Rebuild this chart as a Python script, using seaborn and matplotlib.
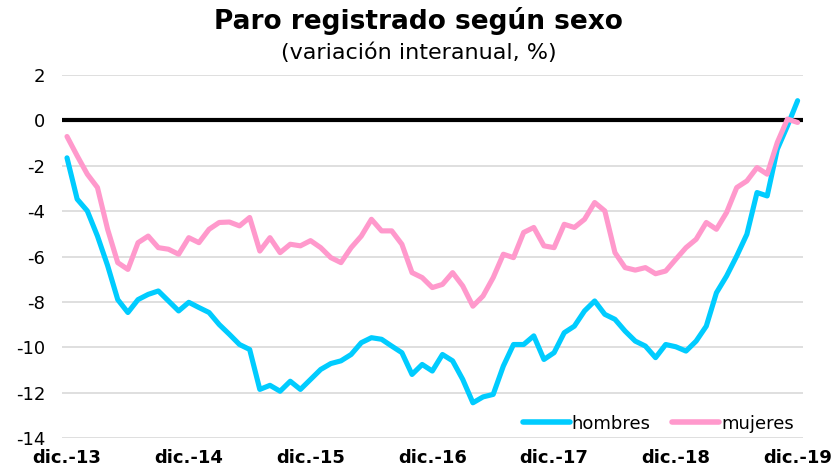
import numpy as np
import pandas as pd
from matplotlib import pyplot as plt
import seaborn as sns

# Monthly series, dic.-13 .. dic.-19 (73 points)
HOMBRES = [
    -1.65, -3.47, -3.99, -5.1, -6.4, -7.9, -8.47, -7.9, -7.67, -7.52, -7.96, -8.4,
    -8.02, -8.25, -8.47, -9.0, -9.43, -9.88, -10.1, -11.86, -11.68, -11.94, -11.5, -11.86,
    -11.42, -10.98, -10.72, -10.6, -10.32, -9.8, -9.58, -9.65, -9.95, -10.24, -11.2, -10.76,
    -11.05, -10.32, -10.6, -11.42, -12.45, -12.19, -12.08, -10.83, -9.88, -9.88, -9.5, -10.54,
    -10.24, -9.36, -9.07, -8.4, -7.96, -8.55, -8.77, -9.29, -9.73, -9.95, -10.46, -9.88,
    -9.98, -10.17, -9.73, -9.07, -7.6, -6.86, -5.98, -5.02, -3.18, -3.33, -1.27, -0.24,
    0.87,
]
MUJERES = [
    -0.71, -1.56, -2.37, -2.96, -4.8, -6.27, -6.57, -5.39, -5.1, -5.61, -5.68, -5.9,
    -5.17, -5.39, -4.8, -4.5, -4.48, -4.65, -4.28, -5.76, -5.17, -5.83, -5.46, -5.53,
    -5.3, -5.61, -6.05, -6.27, -5.61, -5.1, -4.36, -4.87, -4.87, -5.46, -6.71, -6.93,
    -7.37, -7.23, -6.71, -7.3, -8.19, -7.74, -6.93, -5.9, -6.05, -4.94, -4.72, -5.53,
    -5.61, -4.58, -4.72, -4.36, -3.62, -3.99, -5.83, -6.49, -6.6, -6.49, -6.76, -6.64,
    -6.12, -5.61, -5.24, -4.5, -4.8, -4.06, -2.96, -2.67, -2.08, -2.37, -0.97, 0.06,
    -0.09,
]
TICK_LABELS = ["dic.-13", "dic.-14", "dic.-15", "dic.-16", "dic.-17", "dic.-18", "dic.-19"]
Y_TICKS = [2, 0, -2, -4, -6, -8, -10, -12, -14]

COLORS = {"hombres": "#00CCFF", "mujeres": "#FF99CC"}


def main():
    n = len(HOMBRES)
    df = pd.DataFrame({
        "mes": list(range(n)) * 2,
        "valor": HOMBRES + MUJERES,
        "serie": ["hombres"] * n + ["mujeres"] * n,
    })

    sns.set_style("white")
    plt.rcParams["font.family"] = ["DejaVu Sans"]
    plt.rcParams["text.color"] = "black"
    plt.rcParams["xtick.color"] = "black"
    plt.rcParams["ytick.color"] = "black"

    fig = plt.figure(figsize=(8.37, 4.75), dpi=100)
    ax = fig.add_axes([0.074, 0.078, 0.885, 0.764])

    # light grid + thick zero line
    for y in Y_TICKS:
        if y == 0:
            continue
        ax.axhline(y, color="#d9d9d9", lw=1.2, zorder=0)
    ax.axhline(0, color="black", lw=3, zorder=1)

    sns.lineplot(data=df, x="mes", y="valor", hue="serie", palette=COLORS,
                 linewidth=3.7, ax=ax, legend=True, zorder=3)
    for line in ax.get_lines():
        line.set_solid_capstyle("round")
        line.set_solid_joinstyle("round")

    ax.set_xlim(-0.5, n - 0.5)
    ax.set_ylim(-14, 2)
    ax.set_yticks(Y_TICKS)
    ax.set_yticklabels([str(v) for v in Y_TICKS], fontsize=13)
    ax.set_xticks(range(0, n, 12))
    ax.set_xticklabels(TICK_LABELS, fontsize=13, fontweight="bold")
    ax.tick_params(axis="both", length=0)
    ax.tick_params(axis="x", pad=8)
    ax.tick_params(axis="y", pad=12)
    ax.set(xlabel=None, ylabel=None)
    for s in ax.spines.values():
        s.set_visible(False)

    leg = ax.legend(loc="lower right", frameon=False, ncol=2, fontsize=13,
                    handlelength=2.6, handletextpad=0.1, columnspacing=1.2,
                    borderaxespad=0.1, bbox_to_anchor=(1.0, -0.01))
    for h in leg.get_lines():
        h.set_linewidth(4)
    for t in leg.get_texts():
        t.set_color("black")

    fig.text(0.5, 0.955, "Paro registrado según sexo", ha="center", va="center",
             fontsize=19, fontweight="bold", color="black")
    fig.text(0.5, 0.888, "(variación interanual, %)", ha="center", va="center",
             fontsize=16, color="black")

    fig.savefig("out.png", dpi=100)
    plt.close(fig)


if __name__ == "__main__":
    main()
